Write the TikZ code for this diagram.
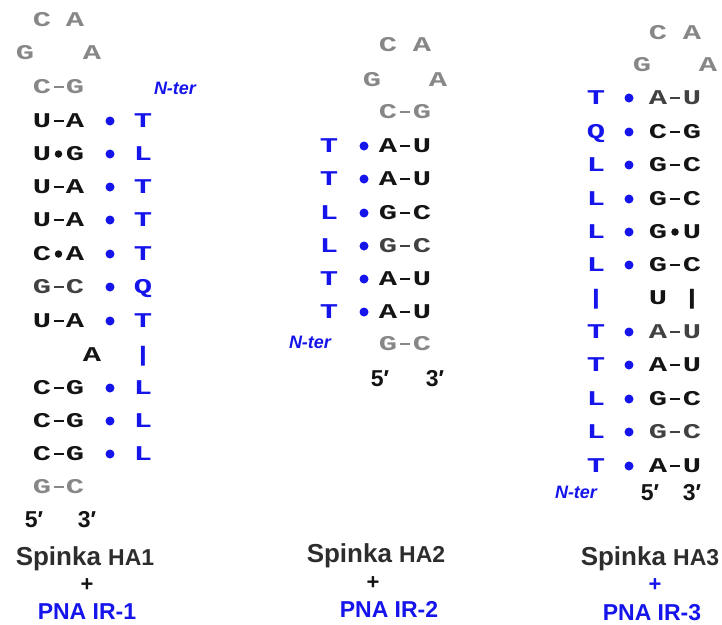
\documentclass[tikz,border=0pt]{standalone}
\usepackage{fontspec}
\usetikzlibrary{calc}
\setmainfont{Liberation Sans}
\setsansfont{Liberation Sans}
\setmonofont{Liberation Mono}
\definecolor{loopgray}{RGB}{135,135,135}
\definecolor{pnablue}{RGB}{20,20,235}
\definecolor{ink}{RGB}{20,20,20}
\definecolor{inkgray}{RGB}{65,65,65}
\definecolor{labgray}{RGB}{45,45,45}
\tikzset{
  nt/.style={font=\ttfamily\bfseries\fontsize{21}{21}\selectfont, inner sep=0pt, xscale=1.45,
    text height=13.8pt, text depth=0pt, text=ink},
  pna/.style={nt, text=pnablue},
  bond/.style={line width=2.4pt},
  bdot/.style={circle, fill=pnablue, inner sep=0pt, minimum size=9pt},
  kdot/.style={circle, fill=ink, inner sep=0pt, minimum size=7.5pt},
  nter/.style={font=\sffamily\bfseries\itshape\fontsize{18}{18}\selectfont, text=pnablue,
    inner sep=0pt, text height=12.9pt, text depth=0pt},
  prime/.style={font=\bfseries\fontsize{23}{23}\selectfont, text=ink, inner sep=0pt,
    text height=16.5pt, text depth=0pt},
  title/.style={font=\bfseries, text=labgray, inner sep=0pt, text height=18.6pt, text depth=0pt},
  plus/.style={font=\bfseries\fontsize{22}{22}\selectfont, inner sep=0pt, text height=12pt, text depth=0pt},
  pnalab/.style={font=\bfseries\fontsize{23}{23}\selectfont, text=pnablue, inner sep=0pt,
    text height=16.5pt, text depth=0pt}
}
% pair with dash
\newcommand\WCpair[7]{%
  \node[nt,text=#7] (#1l) at (#2,#4) {#5};
  \node[nt,text=#7] (#1r) at (#3,#4) {#6};
  \draw[bond,draw=#7] ($(#1l.center)!0.36!(#1r.center)$) -- ($(#1l.center)!0.66!(#1r.center)$);}
% wobble pair with bullet
\newcommand\GUpair[7]{%
  \node[nt,text=#7] (#1l) at (#2,#4) {#5};
  \node[nt,text=#7] (#1r) at (#3,#4) {#6};
  \node[kdot] (#1d) at ({(#2+#3)/2},#4) {};}
% PNA residue with dot
\newcommand\PNAres[5]{%
  \node[pna] (#1p) at (#2,#4) {#5};
  \node[bdot] (#1b) at (#3,#4) {};}
\begin{document}
\begin{tikzpicture}[x=1pt,y=-1pt]
\useasboundingbox (0,0) rectangle (722,624);
% ================= Panel 1 =================
\node[nt,text=loopgray] (a1) at (42,20) {C};
\node[nt,text=loopgray] (a2) at (75,20) {A};
\node[nt,text=loopgray] (a3) at (25,53) {G};
\node[nt,text=loopgray] (a4) at (92,53) {A};
\WCpair{aCG}{42}{75}{87}{C}{G}{loopgray}
\node[nter] (antr) at (175,88) {N-ter};
\WCpair{aR1}{42}{75}{121}{U}{A}{ink}
\PNAres{aP1}{143}{110}{121}{T}
\GUpair{aR2}{42}{75}{154}{U}{G}{ink}
\PNAres{aP2}{143}{110}{154}{L}
\WCpair{aR3}{42}{75}{187}{U}{A}{ink}
\PNAres{aP3}{143}{110}{187}{T}
\WCpair{aR4}{42}{75}{220}{U}{A}{ink}
\PNAres{aP4}{143}{110}{220}{T}
\GUpair{aR5}{42}{75}{254}{C}{A}{ink}
\PNAres{aP5}{143}{110}{254}{T}
\WCpair{aR6}{42}{75}{287}{G}{C}{inkgray}
\PNAres{aP6}{143}{110}{287}{Q}
\WCpair{aR7}{42}{75}{321}{U}{A}{ink}
\PNAres{aP7}{143}{110}{321}{T}
\node[nt] (aBul) at (92,355) {A};
\node[pna] (aBar) at (143,355) {|};
\WCpair{aR8}{42}{75}{388}{C}{G}{ink}
\PNAres{aP8}{143}{110}{388}{L}
\WCpair{aR9}{42}{75}{421}{C}{G}{ink}
\PNAres{aP9}{143}{110}{421}{L}
\WCpair{aR10}{42}{75}{454}{C}{G}{ink}
\PNAres{aP10}{143}{110}{454}{L}
\WCpair{aR11}{42}{75}{487}{G}{C}{loopgray}
\node[prime] (a5p) at (34,519) {5′};
\node[prime] (a3p) at (87,519) {3′};
\node[title] (aT) at (85,556) {\fontsize{26}{26}\selectfont Spinka \fontsize{23}{23}\selectfont HA1};
\node[plus,text=ink] (aplus) at (87,585) {+};
\node[pnalab] (aPNA) at (87,611) {PNA IR-1};
% ================= Panel 2 =================
\node[nt,text=loopgray] (b1) at (388,45) {C};
\node[nt,text=loopgray] (b2) at (422,45) {A};
\node[nt,text=loopgray] (b3) at (372,80) {G};
\node[nt,text=loopgray] (b4) at (438,80) {A};
\WCpair{bCG}{388}{422}{112}{C}{G}{loopgray}
\WCpair{bR1}{388}{422}{146}{A}{U}{ink}
\PNAres{bP1}{329}{364}{146}{T}
\WCpair{bR2}{388}{422}{179}{A}{U}{ink}
\PNAres{bP2}{329}{364}{179}{T}
\WCpair{bR3}{388}{422}{213}{G}{C}{ink}
\PNAres{bP3}{329}{364}{213}{L}
\WCpair{bR4}{388}{422}{246}{G}{C}{inkgray}
\PNAres{bP4}{329}{364}{246}{L}
\WCpair{bR5}{388}{422}{279}{A}{U}{ink}
\PNAres{bP5}{329}{364}{279}{T}
\WCpair{bR6}{388}{422}{312}{A}{U}{ink}
\PNAres{bP6}{329}{364}{312}{T}
\node[nter] (bntr) at (310,342) {N-ter};
\WCpair{bR7}{388}{422}{344}{G}{C}{loopgray}
\node[prime] (b5p) at (380,378) {5′};
\node[prime] (b3p) at (435,378) {3′};
\node[title] (bT) at (376,553) {\fontsize{26}{26}\selectfont Spinka \fontsize{23}{23}\selectfont HA2};
\node[plus,text=ink] (bplus) at (373,583) {+};
\node[pnalab] (bPNA) at (389,609) {PNA IR-2};
% ================= Panel 3 =================
\node[nt,text=loopgray] (c1) at (658,33) {C};
\node[nt,text=loopgray] (c2) at (692,33) {A};
\node[nt,text=loopgray] (c3) at (642,65) {G};
\node[nt,text=loopgray] (c4) at (708,65) {A};
\WCpair{cR1}{658}{692}{98}{A}{U}{inkgray}
\PNAres{cP1}{596}{629}{98}{T}
\WCpair{cR2}{658}{692}{132}{C}{G}{ink}
\PNAres{cP2}{596}{629}{132}{Q}
\WCpair{cR3}{658}{692}{165}{G}{C}{ink}
\PNAres{cP3}{596}{629}{165}{L}
\WCpair{cR4}{658}{692}{199}{G}{C}{ink}
\PNAres{cP4}{596}{629}{199}{L}
\GUpair{cR5}{658}{692}{232}{G}{U}{ink}
\PNAres{cP5}{596}{629}{232}{L}
\WCpair{cR6}{658}{692}{265}{G}{C}{ink}
\PNAres{cP6}{596}{629}{265}{L}
\node[pna] (cBar) at (596,298) {|};
\node[nt] (cBul) at (658,298) {U};
\node[nt] (cBar2) at (692,298) {|};
\WCpair{cR7}{658}{692}{332}{A}{U}{inkgray}
\PNAres{cP7}{596}{629}{332}{T}
\WCpair{cR8}{658}{692}{365}{A}{U}{ink}
\PNAres{cP8}{596}{629}{365}{T}
\WCpair{cR9}{658}{692}{399}{G}{C}{ink}
\PNAres{cP9}{596}{629}{399}{L}
\WCpair{cR10}{658}{692}{432}{G}{C}{inkgray}
\PNAres{cP10}{596}{629}{432}{L}
\WCpair{cR11}{658}{692}{466}{A}{U}{ink}
\PNAres{cP11}{596}{629}{466}{T}
\node[nter] (cntr) at (576,492) {N-ter};
\node[prime] (c5p) at (650,492) {5′};
\node[prime] (c3p) at (692,492) {3′};
\node[title] (cT) at (650,556) {\fontsize{26}{26}\selectfont Spinka \fontsize{23}{23}\selectfont HA3};
\node[plus,text=pnablue] (cplus) at (655,585) {+};
\node[pnalab] (cPNA) at (652,612) {PNA IR-3};
\end{tikzpicture}
\end{document}
